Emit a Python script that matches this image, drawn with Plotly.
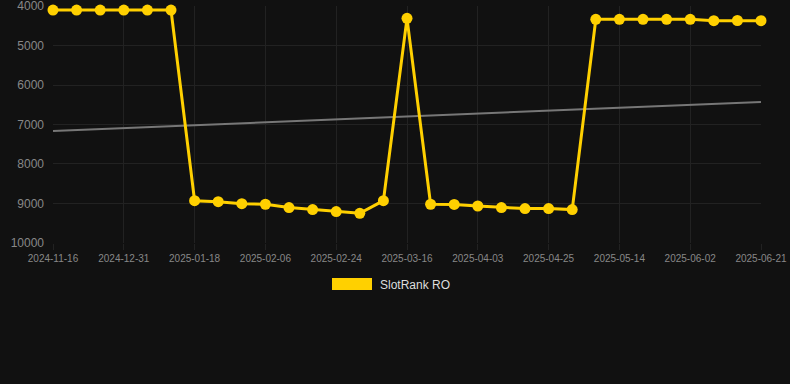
import plotly.graph_objects as go

dates = [
    "2024-11-16", "2024-12-19", "2024-12-25", "2024-12-31", "2025-01-06", "2025-01-12",
    "2025-01-18", "2025-01-24", "2025-01-31", "2025-02-06", "2025-02-12", "2025-02-18",
    "2025-02-24", "2025-03-02", "2025-03-09", "2025-03-16", "2025-03-22", "2025-03-28",
    "2025-04-03", "2025-04-10", "2025-04-18", "2025-04-25", "2025-05-01", "2025-05-08",
    "2025-05-14", "2025-05-20", "2025-05-27", "2025-06-02", "2025-06-08", "2025-06-15",
    "2025-06-21",
]
rank = [
    4100, 4100, 4100, 4100, 4100, 4100,
    8930, 8955, 9005, 9020, 9105, 9155,
    9205, 9250, 8930, 4310, 9020, 9025,
    9065, 9105, 9130, 9130, 9155, 4335,
    4335, 4335, 4335, 4335, 4370, 4365,
    4370,
]
trend_values = [7165, 6430]
tick_labels = dates[::3]
y_ticks = [4000, 5000, 6000, 7000, 8000, 9000, 10000]
y_tick_text = ["4000", "5000", "6000", "7000", "8000", "9000", "10000"]

BG = "#111111"
GOLD = "#FFD000"
GRID = "#222222"

fig = go.Figure()
fig.add_trace(go.Scatter(
    x=[dates[0], dates[-1]], y=trend_values, mode="lines",
    line=dict(color="#777777", width=2), showlegend=False, hoverinfo="skip",
    cliponaxis=False,
))
fig.add_trace(go.Scatter(
    x=dates, y=rank, mode="lines+markers", name="SlotRank RO",
    line=dict(color=GOLD, width=3),
    marker=dict(color=GOLD, size=11),
    showlegend=False, cliponaxis=False,
))

fig.update_layout(
    width=790, height=384,
    margin=dict(l=53, r=29, t=6, b=141, autoexpand=False),
    paper_bgcolor=BG, plot_bgcolor=BG,
    font=dict(family="Liberation Sans, Arial, sans-serif", color="#888888"),
    showlegend=False,
)
fig.update_xaxes(
    type="category", categoryorder="array", categoryarray=dates,
    range=[0, len(dates) - 1], automargin=False,
    tickmode="array", tickvals=tick_labels, ticktext=tick_labels,
    tickfont=dict(size=10, color="#888888"),
    showgrid=True, gridcolor=GRID, gridwidth=1,
    ticks="outside", ticklen=6, tickcolor=GRID,
    showline=False, zeroline=False, ticklabeloverflow="allow",
)
fig.update_yaxes(
    range=[10002, 3998], automargin=False,
    tickmode="array", tickvals=y_ticks, ticktext=y_tick_text,
    tickfont=dict(size=12, color="#888888"),
    showgrid=True, gridcolor=GRID, gridwidth=1,
    ticks="", ticklabelstandoff=8,
    showline=False, zeroline=False, ticklabeloverflow="allow",
)
# legend
fig.add_shape(type="rect", xref="paper", yref="paper",
              x0=(332 - 53) / 708, x1=(372 - 53) / 708,
              y0=(243 - 278) / 237, y1=(243 - 290) / 237,
              fillcolor=GOLD, line=dict(width=0))
fig.add_annotation(xref="paper", yref="paper", x=(378 - 53) / 708, y=(243 - 284.5) / 237,
                   text="SlotRank RO", showarrow=False, xanchor="left", yanchor="middle",
                   font=dict(size=12, color="#DDDDDD"))

fig.write_html("out.html")
